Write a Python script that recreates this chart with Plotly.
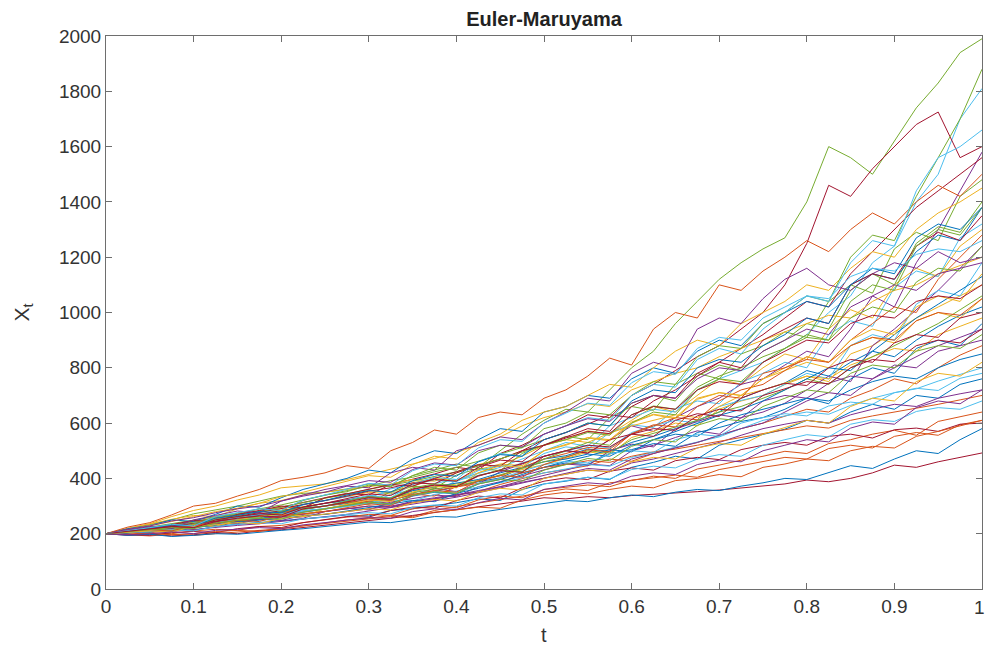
import plotly.graph_objects as go

t = [0, 0.025, 0.05, 0.075, 0.1, 0.125, 0.15, 0.175, 0.2, 0.225, 0.25,
     0.275, 0.3, 0.325, 0.35, 0.375, 0.4, 0.425, 0.45, 0.475, 0.5,
     0.525, 0.55, 0.575, 0.6, 0.625, 0.65, 0.675, 0.7, 0.725, 0.75,
     0.775, 0.8, 0.825, 0.85, 0.875, 0.9, 0.925, 0.95, 0.975, 1.0]

p01 = [200,206,215,222,236,242,255,262,276,289,300,
       309,326,322,340,352,370,388,402,438,470,
       482,506,498,530,552,580,610,640,690,720,
       745,790,770,820,860,840,900,950,990,1020]
p02 = [200,204,212,220,226,232,246,252,260,272,280,
       290,300,296,312,326,340,352,378,400,420,
       432,446,470,462,490,512,530,556,580,600,
       626,650,640,690,720,760,742,800,846,880]
p03 = [200,210,222,228,244,252,266,280,290,306,320,
       334,350,344,370,398,390,420,452,480,520,
       540,572,560,610,660,640,700,760,740,800,
       850,830,940,1010,980,1100,1160,1130,1240,1300]
p04 = [200,208,214,226,234,246,254,262,274,282,290,
       304,318,310,336,364,352,380,424,452,480,
       500,490,540,590,570,620,660,690,740,760,
       810,860,840,940,1060,1020,1180,1300,1440,1580]
p05 = [200,216,232,250,272,286,300,318,336,346,350,
       362,380,372,410,430,452,440,500,560,610,
       650,640,720,800,860,960,1040,1120,1180,1230,
       1270,1400,1600,1560,1500,1620,1740,1830,1940,1990]
p06 = [200,206,218,214,238,248,258,270,264,296,310,
       322,336,352,344,382,396,418,440,470,500,
       530,516,590,620,650,640,720,760,790,820,
       870,920,1000,1060,1180,1240,1400,1500,1700,1810]
p07 = [200,210,218,232,244,256,270,282,296,314,330,
       346,340,378,398,416,440,430,490,520,560,
       590,630,620,700,740,790,840,880,940,1000,
       1100,1250,1460,1420,1520,1600,1680,1725,1560,1600]
p08 = [200,202,210,216,212,226,234,240,246,254,260,
       268,264,284,290,302,312,326,320,360,380,
       390,404,396,440,458,480,470,520,540,560,
       578,610,600,640,668,650,700,690,740,760]
p09 = [200,196,192,198,194,200,206,212,218,228,240,
       250,256,266,262,284,298,310,322,336,350,
       362,356,384,392,408,400,434,448,466,480,
       498,490,526,540,560,574,556,606,624,640]
p10 = [200,210,216,228,236,250,258,272,284,298,310,
       318,332,326,354,366,380,394,410,432,450,
       472,496,486,548,570,600,590,650,680,700,
       740,770,750,850,880,930,980,1020,1060,1100]
p11 = [200,204,212,220,230,236,244,252,248,266,270,
       280,292,300,314,326,340,356,370,392,410,
       430,452,446,500,520,548,572,560,620,640,
       672,720,770,750,880,940,1010,1080,1160,1240]
p12 = [200,210,224,236,248,262,274,290,304,322,340,
       356,372,392,404,424,440,462,488,512,540,
       566,600,590,672,700,680,770,810,790,860,
       900,960,940,1080,1140,1100,1250,1310,1290,1400]
p13 = [200,206,214,224,234,244,254,266,276,288,300,
       314,308,342,358,350,392,410,430,456,480,
       498,520,510,566,590,610,600,660,682,700,
       740,780,760,880,920,900,1030,1080,1060,1180]
p14 = [200,194,198,192,196,204,200,210,214,222,230,
       238,248,256,266,276,286,296,306,318,330,
       326,334,330,338,342,348,352,358,366,372,
       380,394,388,400,420,448,440,460,476,492]
p15 = [200,206,212,218,230,238,248,256,266,278,290,
       300,312,306,336,350,344,380,396,420,440,
       456,450,490,504,526,516,566,584,606,620,
       650,690,670,760,800,780,870,900,880,960]
p16 = [200,198,204,200,210,216,212,226,230,240,248,
       258,270,266,290,300,294,322,336,330,360,
       368,376,370,394,402,412,404,432,446,460,
       476,470,508,520,510,552,566,556,594,610]
p17 = [200,212,220,214,242,256,250,282,298,292,330,
       340,356,348,384,400,392,432,452,446,500,
       522,546,536,600,630,616,686,710,700,760,
       790,820,800,880,910,890,970,1000,980,1050]
p18 = [200,206,204,220,228,224,244,252,262,256,280,
       292,286,314,328,340,334,370,388,410,430,
       452,446,500,524,514,578,606,630,618,680,
       700,690,744,770,760,810,800,860,880,900]
p19 = [200,204,214,210,232,244,238,266,278,290,300,
       316,310,352,372,364,412,436,428,490,520,
       552,540,620,660,646,740,780,760,850,880,
       930,910,1040,1100,1070,1230,1290,1260,1420,1480]
p20 = [200,208,204,228,240,236,262,274,270,304,320,
       334,328,362,378,394,388,428,448,440,490,
       514,506,566,594,584,652,680,670,748,780,
       820,800,920,970,950,1090,1150,1130,1270,1320]
p21 = [200,198,194,204,208,204,218,226,222,240,252,
       262,260,284,296,292,320,336,330,366,390,
       402,396,426,438,430,464,476,468,504,520,
       530,520,552,560,546,576,582,570,596,600]
p22 = [200,210,206,224,236,244,258,266,280,296,310,
       320,334,328,356,370,382,396,420,440,460,
       470,488,480,520,540,560,552,600,630,650,
       668,690,680,720,750,770,760,800,830,850]
p23 = [200,206,216,212,230,240,250,262,270,282,290,
       304,318,330,344,336,370,390,410,440,470,
       490,512,506,560,590,620,612,680,720,740,
       790,840,820,900,960,1020,1000,1120,1200,1280]
p24 = [200,218,236,252,266,262,290,310,320,340,350,
       360,372,380,396,390,420,450,470,500,520,
       540,530,564,590,610,630,620,660,700,720,
       744,770,760,810,840,870,860,920,950,980]
p25 = [200,204,214,222,228,238,236,252,264,270,280,
       290,300,296,318,330,342,350,370,386,400,
       414,430,424,456,470,490,510,530,556,580,
       596,610,600,630,650,668,660,690,706,720]
p26 = [200,206,216,224,220,240,250,262,274,286,300,
       312,306,330,348,360,374,390,412,436,460,
       478,500,492,540,562,586,610,640,660,690,
       720,760,740,800,840,880,920,960,1010,1060]
p27 = [200,208,214,226,234,230,250,258,270,284,290,
       298,312,322,318,342,354,368,384,402,420,
       434,450,444,476,494,512,530,550,580,610,
       626,640,632,664,690,710,724,752,776,800]
p28 = [200,210,220,232,228,250,262,276,290,306,320,
       336,354,366,384,380,420,446,470,500,540,
       566,596,630,620,680,720,770,820,870,920,
       980,1040,1020,1140,1220,1300,1380,1440,1500,1560]
p29 = [200,202,212,208,222,230,242,248,256,264,270,
       282,294,306,320,316,346,364,386,414,440,
       462,480,504,496,540,570,600,628,650,680,
       720,760,800,790,860,920,980,1030,1080,1130]
p30 = [200,208,216,222,232,244,252,264,278,290,300,
       312,324,320,342,356,370,382,400,420,440,
       450,464,458,480,496,506,520,534,546,560,
       574,590,582,610,626,640,652,668,684,700]
p31 = [200,220,236,262,284,300,322,340,366,372,380,
       396,414,432,452,472,494,520,550,590,620,
       640,670,660,720,750,780,800,840,870,900,
       930,960,990,980,1040,1080,1100,1140,1170,1200]
p32 = [200,204,210,208,216,222,230,236,244,252,260,
       270,282,294,306,318,332,348,366,382,400,
       418,436,430,470,490,510,530,556,580,600,
       640,680,710,700,760,800,840,880,910,940]
p33 = [200,210,222,230,242,256,266,280,296,312,330,
       344,360,376,390,406,424,446,470,496,520,
       540,566,556,630,662,650,730,770,800,840,
       870,910,900,980,1020,1000,1110,1160,1150,1240]
p34 = [200,206,214,224,230,240,250,262,272,280,290,
       300,312,306,338,352,346,382,400,426,450,
       462,456,490,500,494,540,560,552,600,620,
       634,626,662,676,668,710,726,718,762,780]
p35 = [200,208,218,228,236,246,258,270,284,296,310,
       322,334,328,362,376,370,408,430,454,480,
       500,492,540,560,552,610,634,624,690,720,
       744,736,800,830,820,890,920,910,980,1000]
p36 = [200,218,230,250,244,270,300,296,330,360,380,
       400,430,420,470,500,490,540,580,570,640,
       660,700,690,760,800,780,860,900,880,960,
       1000,1040,1020,1100,1140,1120,1220,1280,1260,1380]
p37 = [200,224,240,268,300,310,336,360,392,404,420,
       446,436,500,530,575,560,620,640,630,690,
       720,770,835,810,940,1000,980,1100,1080,1150,
       1200,1260,1220,1300,1360,1320,1400,1460,1420,1500]
p38 = [200,214,230,244,262,280,292,310,334,350,370,
       390,410,404,450,480,470,530,560,610,640,
       660,700,740,730,800,860,900,880,960,1000,
       1040,1100,1080,1160,1220,1200,1300,1360,1400,1450]
p39 = [200,216,228,246,258,276,290,300,318,336,350,
       372,366,420,440,430,500,520,550,540,600,
       640,690,680,780,820,800,940,980,960,1050,
       1120,1160,1100,1080,1140,1180,1160,1220,1180,1200]
p40 = [200,206,220,234,228,262,270,290,284,320,340,
       352,376,370,410,440,430,492,520,510,580,
       600,640,630,700,750,740,840,880,870,960,
       1000,1060,1040,1200,1280,1260,1420,1560,1700,1880]
p41 = [200,208,214,226,220,250,258,270,264,292,300,
       320,338,330,380,404,396,460,490,480,560,
       590,620,610,700,740,730,830,870,850,940,
       1000,1060,1040,1180,1260,1240,1440,1560,1600,1660]
p42 = [200,212,218,232,248,242,270,284,300,294,330,
       344,360,378,372,400,424,450,444,500,520,
       550,580,570,660,700,690,780,820,800,900,
       940,980,960,1100,1140,1120,1240,1290,1260,1350]
p43 = [200,194,198,190,194,200,198,206,212,218,226,
       232,242,240,252,262,260,276,288,298,310,
       320,316,330,340,334,350,360,356,372,384,
       400,396,420,446,436,470,500,490,540,580]
p44 = [200,198,202,196,200,208,212,208,220,228,236,
       246,252,262,258,278,286,296,292,322,340,
       350,344,360,372,366,392,400,414,406,440,
       452,470,464,500,516,510,552,570,590,610]
p45 = [200,208,212,224,232,226,250,262,270,264,290,
       306,322,316,350,372,366,420,446,440,500,
       520,548,540,604,632,620,690,710,700,760,
       800,840,820,900,940,920,1020,1060,1040,1140]
p46 = [200,212,226,220,250,266,282,276,318,340,360,
       374,392,386,432,456,448,500,520,514,560,
       590,616,606,672,700,690,760,800,790,860,
       900,940,920,1020,1060,1100,1080,1140,1160,1180]
p47 = [200,206,218,212,236,250,262,256,282,294,300,
       318,334,328,366,380,374,410,430,424,470,
       500,530,520,600,640,630,720,760,750,820,
       870,920,900,1040,1100,1080,1240,1300,1280,1380]
p48 = [200,204,208,214,210,226,234,240,236,254,260,
       270,276,272,296,304,300,330,344,340,380,
       392,404,398,432,444,438,470,486,480,520,
       540,558,550,596,612,606,642,656,650,680]
p49 = [200,210,216,226,222,250,262,272,268,296,310,
       326,344,338,380,396,390,440,466,460,520,
       546,570,562,630,660,650,720,750,740,820,
       860,900,890,960,990,980,1040,1060,1050,1100]
p50 = [200,208,220,232,228,256,266,280,276,306,320,
       340,356,350,392,414,408,460,486,480,540,
       566,600,590,680,720,710,800,830,820,880,
       920,980,960,1100,1160,1140,1270,1320,1300,1380]
p51 = [200,206,214,210,230,238,248,244,266,272,280,
       294,308,302,338,356,350,392,410,404,450,
       476,504,496,562,594,586,660,700,690,780,
       800,830,820,880,910,900,970,1000,990,1050]
p52 = [200,204,210,206,226,232,240,236,256,262,270,
       280,290,286,312,324,318,350,364,358,400,
       414,430,424,460,476,470,510,526,520,560,
       584,610,600,660,690,680,750,780,770,820]
p53 = [200,196,200,206,200,212,216,222,218,232,240,
       250,258,256,280,290,288,312,328,322,360,
       372,384,378,408,420,414,450,466,460,500,
       520,540,532,582,604,596,656,680,670,720]
p54 = [200,208,214,222,218,238,248,256,252,278,290,
       302,314,308,340,352,346,380,396,390,430,
       450,472,464,516,540,532,592,616,608,660,
       690,720,710,780,810,800,860,880,870,920]
p55 = [200,210,222,234,228,262,276,290,284,322,340,
       360,382,376,428,452,446,510,540,534,600,
       636,672,664,746,786,776,870,910,900,980,
       1020,1060,1050,1130,1160,1150,1210,1230,1220,1260]
p56 = [200,208,218,226,222,244,256,264,260,290,300,
       316,330,324,360,376,370,410,428,422,480,
       500,520,514,560,580,574,626,650,644,700,
       724,750,742,800,830,822,880,900,890,940]

paths = [p01, p02, p03, p04, p05, p06, p07, p08, p09, p10, p11, p12, p13, p14,
         p15, p16, p17, p18, p19, p20, p21, p22, p23, p24, p25, p26, p27, p28,
         p29, p30, p31, p32, p33, p34, p35, p36, p37, p38, p39, p40, p41, p42,
         p43, p44, p45, p46, p47, p48, p49, p50, p51, p52, p53, p54, p55, p56]

colors = ['#0072BD', '#D95319', '#EDB120', '#7E2F8E', '#77AC30', '#4DBEEE', '#A2142F']

xtick_vals = [0, 0.1, 0.2, 0.3, 0.4, 0.5, 0.6, 0.7, 0.8, 0.9, 1]
xtick_text = ['0', '0.1', '0.2', '0.3', '0.4', '0.5', '0.6', '0.7', '0.8', '0.9', '1']
ytick_vals = [0, 200, 400, 600, 800, 1000, 1200, 1400, 1600, 1800, 2000]

for i, p in enumerate(paths):
    if len(p) != len(t):
        raise ValueError(f"path {i+1} has {len(p)} points")

fig = go.Figure()
for i, p in enumerate(paths):
    fig.add_trace(go.Scatter(x=t, y=p, mode='lines',
                             line=dict(color=colors[i % 7], width=1),
                             hoverinfo='skip'))

FONT = 'Liberation Sans, Arial, sans-serif'
TICKFONT = dict(family=FONT, size=19, color='#333333')
axis_common = dict(showline=True, linecolor='#6e6e6e', linewidth=1, mirror='ticks',
                   ticks='inside', ticklen=6, tickcolor='#6e6e6e', showgrid=False,
                   zeroline=False, tickfont=TICKFONT)

# the last x tick label sits on the page edge; it is drawn as an annotation below
fig.update_xaxes(range=[0, 1], tickvals=xtick_vals[:-1],
                 ticktext=xtick_text[:-1], **axis_common)
fig.update_yaxes(range=[0, 2000], tickvals=ytick_vals, **axis_common)

fig.update_layout(
    width=986, height=650,
    margin=dict(l=106, r=4, t=36, b=61),
    paper_bgcolor='white', plot_bgcolor='white', showlegend=False,
    title=dict(text='<b>Euler-Maruyama</b>', x=0.5, xref='paper', xanchor='center',
               y=1 - 19 / 650, yref='container', yanchor='middle',
               font=dict(family=FONT, size=20, color='#222222')),
    annotations=[
        dict(text=xtick_text[-1], x=xtick_vals[-1], xref='x', y=-(607 - 589) / 553,
             yref='paper', showarrow=False, xanchor='center', yanchor='middle',
             xshift=-3, font=TICKFONT),
        dict(text='t', x=0.5, xref='paper', y=-(635 - 589) / 553, yref='paper',
             showarrow=False, xanchor='center', yanchor='middle',
             font=dict(family=FONT, size=20, color='#333333')),
        dict(text='X<sub>t</sub>', x=(22 - 106) / 876, xref='paper', y=0.5, yref='paper',
             showarrow=False, xanchor='center', yanchor='middle', textangle=-90,
             font=dict(family=FONT, size=21, color='#333333')),
    ],
)

fig.write_html("out.html")
